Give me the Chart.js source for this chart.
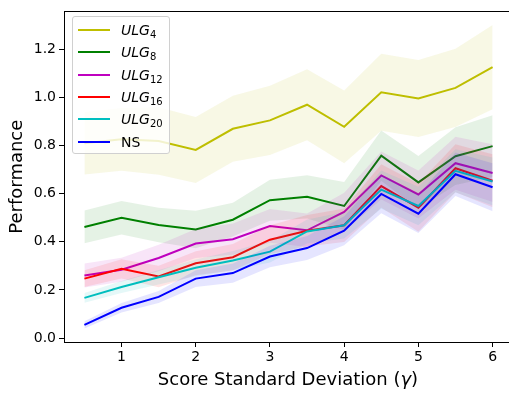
<!DOCTYPE html>
<html lang="en">
<head>
  <meta charset="UTF-8">
  <title>Performance vs Score Standard Deviation</title>
  <script src="https://cdn.jsdelivr.net/npm/chart.js"></script>
  <style>
    html, body {
      margin: 0;
      background: #fff;
      font-family: "DejaVu Sans", sans-serif;
      overflow: hidden;
    }
    #wrap {
      position: relative;
      width: 509px;
      height: 394px;
      overflow: hidden;
    }
    canvas {
      display: block;
    }
    .legend {
      position: absolute;
      left: 72px;
      top: 16px;
      width: 98px;
      height: 138px;
      background: rgba(255, 255, 255, 0.8);
      border: 1px solid #d0d0d0;
      border-radius: 3px;
      box-sizing: border-box;
      font-size: 14px;
      color: #000;
    }
    .legend .row {
      position: absolute;
      left: 0;
      height: 20px;
      width: 100%;
    }
    .legend .swatch {
      position: absolute;
      left: 5px;
      top: 9px;
      width: 32px;
      height: 2px;
    }
    .legend .txt {
      position: absolute;
      left: 48px;
      top: 1px;
      line-height: 18px;
      white-space: nowrap;
    }
    .legend sub {
      font-size: 10px;
      font-style: normal;
      vertical-align: -3px;
      line-height: 0;
    }
    .xtitle {
      position: absolute;
      left: 88px;
      width: 400px;
      top: 368px;
      text-align: center;
      font-size: 18px;
      line-height: 22px;
      color: #000;
      white-space: nowrap;
    }
  </style>
</head>
<body>
  <div id="wrap">
    <canvas id="perfChart" width="520" height="394" style="width:520px;height:394px"></canvas>
    <div class="legend" id="legend"></div>
    <div class="xtitle">Score Standard Deviation (<i>&gamma;</i>)</div>
  </div>

  <script>
    // x values (score standard deviation, gamma)
    var gammas = [0.5, 1, 1.5, 2, 2.5, 3, 3.5, 4, 4.5, 5, 5.5, 6];

    // mean performance and spread (half width of the shaded band)
    var ulg4Mean  = [0.810, 0.826, 0.819, 0.782, 0.870, 0.905, 0.970, 0.878, 1.022, 0.996, 1.040, 1.126];
    var ulg4Sd    = [0.130, 0.130, 0.140, 0.137, 0.137, 0.144, 0.148, 0.151, 0.160, 0.160, 0.163, 0.175];
    var ulg8Mean  = [0.462, 0.500, 0.470, 0.451, 0.492, 0.573, 0.587, 0.549, 0.758, 0.647, 0.756, 0.798];
    var ulg8Sd    = [0.068, 0.070, 0.072, 0.078, 0.070, 0.085, 0.090, 0.100, 0.105, 0.110, 0.120, 0.128];
    var ulg12Mean = [0.260, 0.284, 0.333, 0.393, 0.411, 0.466, 0.448, 0.524, 0.676, 0.597, 0.727, 0.686];
    var ulg12Sd   = [0.050, 0.050, 0.055, 0.060, 0.065, 0.070, 0.070, 0.080, 0.100, 0.100, 0.110, 0.120];
    var ulg16Mean = [0.247, 0.288, 0.256, 0.311, 0.336, 0.409, 0.446, 0.469, 0.632, 0.542, 0.706, 0.654];
    var ulg16Sd   = [0.035, 0.040, 0.045, 0.050, 0.055, 0.060, 0.065, 0.070, 0.090, 0.100, 0.100, 0.110];
    var ulg20Mean = [0.167, 0.212, 0.253, 0.292, 0.322, 0.359, 0.443, 0.469, 0.617, 0.549, 0.695, 0.651];
    var ulg20Sd   = [0.020, 0.025, 0.030, 0.035, 0.040, 0.045, 0.050, 0.055, 0.080, 0.080, 0.090, 0.100];
    var nsMean    = [0.055, 0.126, 0.171, 0.247, 0.270, 0.339, 0.374, 0.446, 0.599, 0.517, 0.681, 0.627];
    var nsSd      = [0.015, 0.020, 0.025, 0.035, 0.040, 0.045, 0.050, 0.060, 0.080, 0.080, 0.090, 0.100];

    var xTicks = [1, 2, 3, 4, 5, 6];
    var yTicks = [0.0, 0.2, 0.4, 0.6, 0.8, 1.0, 1.2];

    var series = [
      { name: 'ULG', sub: '4',  rgb: [191, 191, 0], mean: ulg4Mean,  sd: ulg4Sd },
      { name: 'ULG', sub: '8',  rgb: [0, 128, 0],   mean: ulg8Mean,  sd: ulg8Sd },
      { name: 'ULG', sub: '12', rgb: [191, 0, 191], mean: ulg12Mean, sd: ulg12Sd },
      { name: 'ULG', sub: '16', rgb: [255, 0, 0],   mean: ulg16Mean, sd: ulg16Sd },
      { name: 'ULG', sub: '20', rgb: [0, 191, 191], mean: ulg20Mean, sd: ulg20Sd },
      { name: 'NS',  sub: '',   rgb: [0, 0, 255],   mean: nsMean,    sd: nsSd }
    ];

    function pts(vals) {
      return gammas.map(function (g, i) { return { x: g, y: vals[i] }; });
    }

    var datasets = [];
    var ord = 1000;
    series.forEach(function (s) {
      var c = s.rgb.join(',');
      var lo = s.mean.map(function (m, i) { return m - s.sd[i]; });
      var hi = s.mean.map(function (m, i) { return m + s.sd[i]; });
      datasets.push({
        data: pts(s.mean), borderColor: 'rgb(' + c + ')', borderWidth: 2,
        pointRadius: 0, tension: 0, fill: false, order: ord--
      });
      datasets.push({
        data: pts(lo), borderWidth: 0, borderColor: 'rgba(0,0,0,0)',
        pointRadius: 0, tension: 0, fill: false, order: ord--
      });
      datasets.push({
        data: pts(hi), borderWidth: 0, borderColor: 'rgba(0,0,0,0)',
        backgroundColor: 'rgba(' + c + ',0.1)',
        pointRadius: 0, tension: 0, fill: '-1', order: ord--
      });
    });

    // top spine (left and bottom come from the axis borders, right one is cut off)
    var framePlugin = {
      id: 'frame',
      afterDraw: function (chart) {
        var a = chart.chartArea, ctx = chart.ctx;
        var y = Math.round(a.top) + 0.5;
        ctx.save();
        ctx.strokeStyle = '#000';
        ctx.lineWidth = 1;
        ctx.beginPath();
        ctx.moveTo(a.left, y);
        ctx.lineTo(chart.width, y);
        ctx.stroke();
        ctx.restore();
      }
    };

    var ctx = document.getElementById('perfChart').getContext('2d');
    Chart.defaults.font.family = '"DejaVu Sans", sans-serif';
    Chart.defaults.color = '#000';

    new Chart(ctx, {
      type: 'line',
      data: { datasets: datasets },
      options: {
        responsive: false,
        animation: false,
        layout: { padding: { top: 8, right: 7, left: 0, bottom: 0 } },
        plugins: {
          legend: { display: false },
          tooltip: { enabled: false },
          filler: { propagate: false }
        },
        scales: {
          x: {
            type: 'linear',
            min: 0.225,
            max: 6.275,
            afterBuildTicks: function (scale) {
              scale.ticks = xTicks.map(function (v) { return { value: v }; });
            },
            afterFit: function (scale) { scale.height = 52; },
            ticks: {
              font: { size: 14 },
              padding: 2,
              maxRotation: 0,
              callback: function (v) { return String(v); }
            },
            grid: { drawOnChartArea: false, drawTicks: true, tickLength: 5, color: '#000' },
            border: { display: true, color: '#000', width: 1 },
            title: { display: false }
          },
          y: {
            type: 'linear',
            min: -0.0165,
            max: 1.358,
            afterBuildTicks: function (scale) {
              scale.ticks = yTicks.map(function (v) { return { value: v }; });
            },
            afterFit: function (scale) { scale.width = 64; },
            ticks: {
              font: { size: 14 },
              padding: 3,
              callback: function (v) { return v.toFixed(1); }
            },
            grid: { drawOnChartArea: false, drawTicks: true, tickLength: 5, color: '#000' },
            border: { display: true, color: '#000', width: 1 },
            title: {
              display: true,
              text: 'Performance',
              font: { size: 18 },
              padding: { top: 7, bottom: 0 }
            }
          }
        }
      },
      plugins: [framePlugin]
    });

    // legend with subscripts as real text
    var legend = document.getElementById('legend');
    var rowTops = [3, 25, 48, 70, 92, 115];
    series.forEach(function (s, i) {
      var row = document.createElement('div');
      row.className = 'row';
      row.style.top = rowTops[i] + 'px';
      var sw = document.createElement('div');
      sw.className = 'swatch';
      sw.style.background = 'rgb(' + s.rgb.join(',') + ')';
      var txt = document.createElement('div');
      txt.className = 'txt';
      if (s.sub) {
        txt.innerHTML = '<i>' + s.name + '</i><sub>' + s.sub + '</sub>';
      } else {
        txt.textContent = s.name;
      }
      row.appendChild(sw);
      row.appendChild(txt);
      legend.appendChild(row);
    });
  </script>
</body>
</html>
